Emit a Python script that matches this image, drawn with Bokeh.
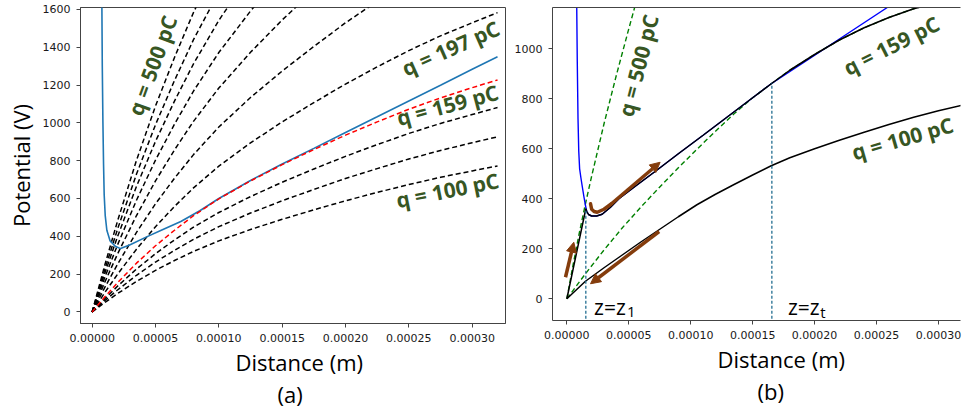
from bokeh.plotting import figure
from bokeh.layouts import row
from bokeh.models import (Range1d, FixedTicker, PrintfTickFormatter, Title, Arrow,
                          NormalHead, LinearAxis)
from bokeh.core.properties import value
from bokeh.embed import file_html
from bokeh.resources import INLINE

# ---------------- panel (a) data ----------------
z_a = [0.0, 1.0e-5, 2.0e-5, 3.5e-5, 5.0e-5, 6.5e-5, 8.0e-5, 10.0e-5, 12.5e-5, 15.0e-5,
       17.5e-5, 20.0e-5, 22.5e-5, 25.0e-5, 27.5e-5, 30.0e-5, 32.0e-5]
dashed_a_1 = [0, 50, 97, 162, 220, 272, 320, 376, 436, 490, 540, 588, 632, 674, 712, 746, 772]
dashed_a_2 = [0, 60, 116, 194, 264, 326, 384, 451, 523, 588, 648, 706, 758, 809, 854, 895, 926]
dashed_a_3 = [0, 70, 136, 227, 308, 381, 448, 526, 610, 686, 756, 823, 885, 944, 997, 1044, 1081]
dashed_a_4 = [0, 103, 199, 332, 451, 558, 656, 771, 894, 1005, 1107, 1205, 1296, 1382, 1460, 1529, 1583]
dashed_a_5 = [0, 130, 252, 421, 572, 707, 832, 978, 1134, 1274, 1404, 1529, 1643]
dashed_a_6 = [0, 158, 306, 510, 693, 857, 1008, 1184, 1373, 1544, 1701]
dashed_a_7 = [0, 183, 354, 591, 803, 993, 1168, 1372, 1591, 1789]
dashed_a_8 = [0, 205, 398, 664, 902, 1115, 1312, 1542, 1788]
dashed_a_9 = [0, 225, 437, 729, 990, 1224, 1440, 1692]
dashed_a_10 = [0, 248, 480, 802, 1089, 1346, 1584, 1861]
red_a = [0, 80, 154, 258, 350, 432, 509, 598, 693, 779, 859, 935, 1005, 1072, 1132, 1186, 1227]

z_blue_a = [0.76e-5, 0.80e-5, 0.85e-5, 0.90e-5, 0.95e-5, 1.03e-5, 1.16e-5, 1.42e-5, 1.82e-5,
            2.24e-5, 3.0e-5, 4.3e-5, 5.5e-5, 7.0e-5, 8.5e-5, 10.0e-5, 12.5e-5, 15.0e-5,
            17.5e-5, 20.0e-5, 22.5e-5, 25.0e-5, 27.5e-5, 30.0e-5, 32.0e-5]
v_blue_a = [1700, 1300, 1000, 780, 620, 511, 432, 375, 348, 335, 355, 397, 433, 478, 535,
            600, 695, 782, 865, 949, 1032, 1116, 1199, 1283, 1350]

a_label_text = ["q = 500 pC", "q = 197 pC", "q = 159 pC", "q = 100 pC"]
a_label_z = [4.76e-5, 28.3e-5, 28.05e-5, 28.05e-5]
a_label_v = [1304, 1395, 1094, 644]
a_label_angle = [70, 24, 15, 11.3]

# ---------------- panel (b) data ----------------
z_blue_b = [0.78e-5, 0.84e-5, 0.90e-5, 0.96e-5, 1.03e-5, 1.13e-5, 1.23e-5, 1.37e-5, 1.50e-5,
            1.60e-5, 1.75e-5, 2.0e-5, 2.4e-5, 2.85e-5, 3.5e-5, 4.2e-5, 5.5e-5, 7.15e-5,
            9.0e-5, 11.0e-5, 13.0e-5, 15.0e-5, 16.5e-5, 19.0e-5, 22.0e-5, 25.9e-5, 27.0e-5]
v_blue_b = [1250, 950, 720, 590, 520, 485, 453, 410, 373, 350, 337, 331, 331, 338, 365, 400,
            449, 510, 580, 654, 729, 804, 860, 941, 1039, 1166, 1202]

z_path_b = [0.0, 1.53e-5, 1.60e-5, 1.75e-5, 2.0e-5, 2.4e-5, 2.85e-5, 3.5e-5, 4.2e-5, 5.5e-5,
            7.15e-5, 9.0e-5, 11.0e-5, 13.0e-5, 15.0e-5, 16.5e-5, 18.0e-5, 20.0e-5, 22.0e-5,
            24.0e-5, 26.0e-5, 28.0e-5, 30.0e-5, 32.0e-5]
v_path_b = [0, 360, 350, 337, 331, 331, 338, 365, 400, 449, 510, 580, 654, 729, 804, 860,
            914, 977, 1035, 1084, 1125, 1160, 1185, 1200]

z_grid_b = [0.0, 1.5e-5, 3.0e-5, 4.5e-5, 6.0e-5, 7.5e-5, 9.0e-5, 10.5e-5, 12.0e-5, 13.5e-5,
            15.0e-5, 16.5e-5, 18.0e-5, 20.0e-5, 22.0e-5, 24.0e-5, 26.0e-5, 28.0e-5, 30.0e-5,
            32.0e-5]
green159_b = [0, 100, 195, 285, 368, 447, 524, 598, 670, 740, 804, 860, 914, 977, 1035, 1084,
              1125, 1160, 1185, 1200]
black100_b = [0, 70, 124, 176, 228, 278, 328, 376, 418, 457, 495, 532, 564, 600, 634, 666,
              697, 726, 752, 775]

z_green500_b = [0.0, 0.5e-5, 1.0e-5, 1.5e-5, 2.0e-5, 3.0e-5, 4.0e-5, 5.0e-5, 6.0e-5]
green500_b = [0, 135, 262, 380, 490, 700, 895, 1080, 1260]

z_marks_b = [1.53e-5, 16.55e-5]
v_marks_b = [360, 862]

b_label_text = ["q = 500 pC", "q = 159 pC", "q = 100 pC"]
b_label_z = [5.76e-5, 26.2e-5, 27.1e-5]
b_label_v = [933, 1013, 641]
b_label_angle = [75.5, 26.8, 16]

zlabel_main = ["z=z", "z=z"]
zlabel_main_z = [2.2e-5, 17.85e-5]
zlabel_sub = ["1", "t"]
zlabel_sub_z = [4.85e-5, 20.45e-5]

arrow_x_start = [-0.11e-5, 3.6e-5, 7.45e-5]
arrow_y_start = [86, 380, 269]
arrow_x_end = [0.56e-5, 7.53e-5, 1.91e-5]
arrow_y_end = [226, 546, 60]
hook_z = [1.91e-5, 2.0e-5, 2.2e-5, 2.45e-5, 3.0e-5, 3.6e-5]
hook_v = [380, 358, 349, 346, 358, 380]

x_ticks = [0.0, 5e-5, 1e-4, 1.5e-4, 2e-4, 2.5e-4, 3e-4]
y_ticks_a = [0, 200, 400, 600, 800, 1000, 1200, 1400, 1600]
y_ticks_b = [0, 200, 400, 600, 800, 1000]

# ---------------- styles ----------------
SPINE = "#444444"
TICKC = "#1a1a1a"
GREEN_TXT = "#375623"
BROWN = "#843C0C"
LABEL_FONT = "Open Sans"


def style(p, yt):
    p.xgrid.visible = False
    p.ygrid.visible = False
    p.background_fill_color = "white"
    p.border_fill_color = "white"
    for ax in (p.xaxis[0], p.yaxis[0]):
        ax.axis_line_color = SPINE
        ax.major_tick_line_color = SPINE
        ax.minor_tick_line_color = None
        ax.major_tick_out = 4
        ax.major_tick_in = 0
        ax.major_label_text_font = "DejaVu Sans"
        ax.major_label_text_font_size = "11px"
        ax.major_label_text_color = TICKC
    p.xaxis[0].ticker = FixedTicker(ticks=x_ticks)
    p.xaxis[0].formatter = PrintfTickFormatter(format="%.5f")
    p.xaxis[0].major_label_standoff = 6
    p.yaxis[0].ticker = FixedTicker(ticks=yt)
    p.yaxis[0].major_label_standoff = 6


def bottom_titles(p, first_off, second, second_off):
    t1 = Title(text="Distance (m)", align="left", offset=first_off,
               text_font=LABEL_FONT, text_font_size="22px", text_font_style="normal",
               text_color="black", standoff=0)
    t2 = Title(text=second, align="left", offset=second_off,
               text_font=LABEL_FONT, text_font_size="22px", text_font_style="normal",
               text_color="black", standoff=0)
    p.add_layout(t1, "below")
    p.add_layout(t2, "below")


# ---------------- panel (a) ----------------
pa = figure(frame_width=425, frame_height=316,
            x_range=Range1d(-0.92e-5, 32.63e-5), y_range=Range1d(-61, 1610),
            output_backend="svg", toolbar_location=None,
            min_border_left=80, min_border_right=5, min_border_top=7, min_border_bottom=0)
style(pa, y_ticks_a)
pa.outline_line_color = SPINE
pa.outline_line_width = 1
pa.yaxis[0].axis_label = "Potential (V)"
pa.yaxis[0].axis_label_text_font = LABEL_FONT
pa.yaxis[0].axis_label_text_font_size = "22px"
pa.yaxis[0].axis_label_text_font_style = "normal"
pa.yaxis[0].axis_label_text_color = "black"
pa.yaxis[0].axis_label_standoff = 4

for v in [dashed_a_1, dashed_a_2, dashed_a_3, dashed_a_4, dashed_a_5, dashed_a_6,
          dashed_a_7, dashed_a_8, dashed_a_9, dashed_a_10]:
    pa.line(z_a[:len(v)], v, line_color="black", line_width=1.5, line_dash="5 3")
pa.line(z_blue_a, v_blue_a, line_color="#1f77b4", line_width=1.6)
pa.line(z_a, red_a, line_color="red", line_width=1.5, line_dash="5 3")

pa.text(x=a_label_z, y=a_label_v, text=a_label_text, angle=a_label_angle, angle_units="deg",
        text_font=value(LABEL_FONT), text_font_style="bold", text_font_size="21px",
        text_color=GREEN_TXT, text_align="center", text_baseline="middle")
bottom_titles(pa, 155, "(a)", 197)

# ---------------- panel (b) ----------------
pb = figure(frame_width=408, frame_height=313,
            x_range=Range1d(-1.16e-5, 31.78e-5), y_range=Range1d(-87, 1165),
            output_backend="svg", toolbar_location=None,
            min_border_left=42, min_border_right=5, min_border_top=7, min_border_bottom=0)
style(pb, y_ticks_b)
pb.outline_line_color = None
top_axis = LinearAxis(ticker=FixedTicker(ticks=[]), major_tick_out=0, major_tick_in=0,
                      minor_tick_out=0, minor_tick_in=0, major_label_standoff=0,
                      axis_line_color=SPINE, major_label_text_font_size="0px")
pb.add_layout(top_axis, "above")

pb.line(z_green500_b, green500_b, line_color="green", line_width=1.4, line_dash="5 3")
pb.line(z_grid_b, green159_b, line_color="green", line_width=1.4, line_dash="5 3")
pb.line(z_blue_b, v_blue_b, line_color="blue", line_width=1.4)
pb.line(z_path_b, v_path_b, line_color="black", line_width=1.5)
pb.line(z_grid_b, black100_b, line_color="black", line_width=1.5)
pb.segment(x0=z_marks_b, y0=[-200, -200], x1=z_marks_b, y1=v_marks_b,
           line_color="#236e91", line_width=1.3, line_dash="3 2")

pb.line(hook_z, hook_v, line_color=BROWN, line_width=3.5, line_cap="round", line_join="round")
for xs, ys, xe, ye in zip(arrow_x_start, arrow_y_start, arrow_x_end, arrow_y_end):
    pb.add_layout(Arrow(end=NormalHead(size=10, fill_color=BROWN, line_color=BROWN),
                        x_start=xs, y_start=ys, x_end=xe, y_end=ye,
                        line_color=BROWN, line_width=3.5))

pb.text(x=b_label_z, y=b_label_v, text=b_label_text, angle=b_label_angle, angle_units="deg",
        text_font=value(LABEL_FONT), text_font_style="bold", text_font_size="21px",
        text_color=GREEN_TXT, text_align="center", text_baseline="middle")
pb.text(x=zlabel_main_z, y=[-34, -34], text=zlabel_main, text_font=value(LABEL_FONT),
        text_font_size="21px", text_color="black", text_align="left",
        text_baseline="alphabetic")
pb.text(x=zlabel_sub_z, y=[-54, -54], text=zlabel_sub, text_font=value(LABEL_FONT),
        text_font_size="15px", text_color="black", text_align="left",
        text_baseline="alphabetic")
bottom_titles(pb, 165, "(b)", 205)

layout = row(pa, pb)
open("out.html", "w").write(file_html(layout, INLINE))
